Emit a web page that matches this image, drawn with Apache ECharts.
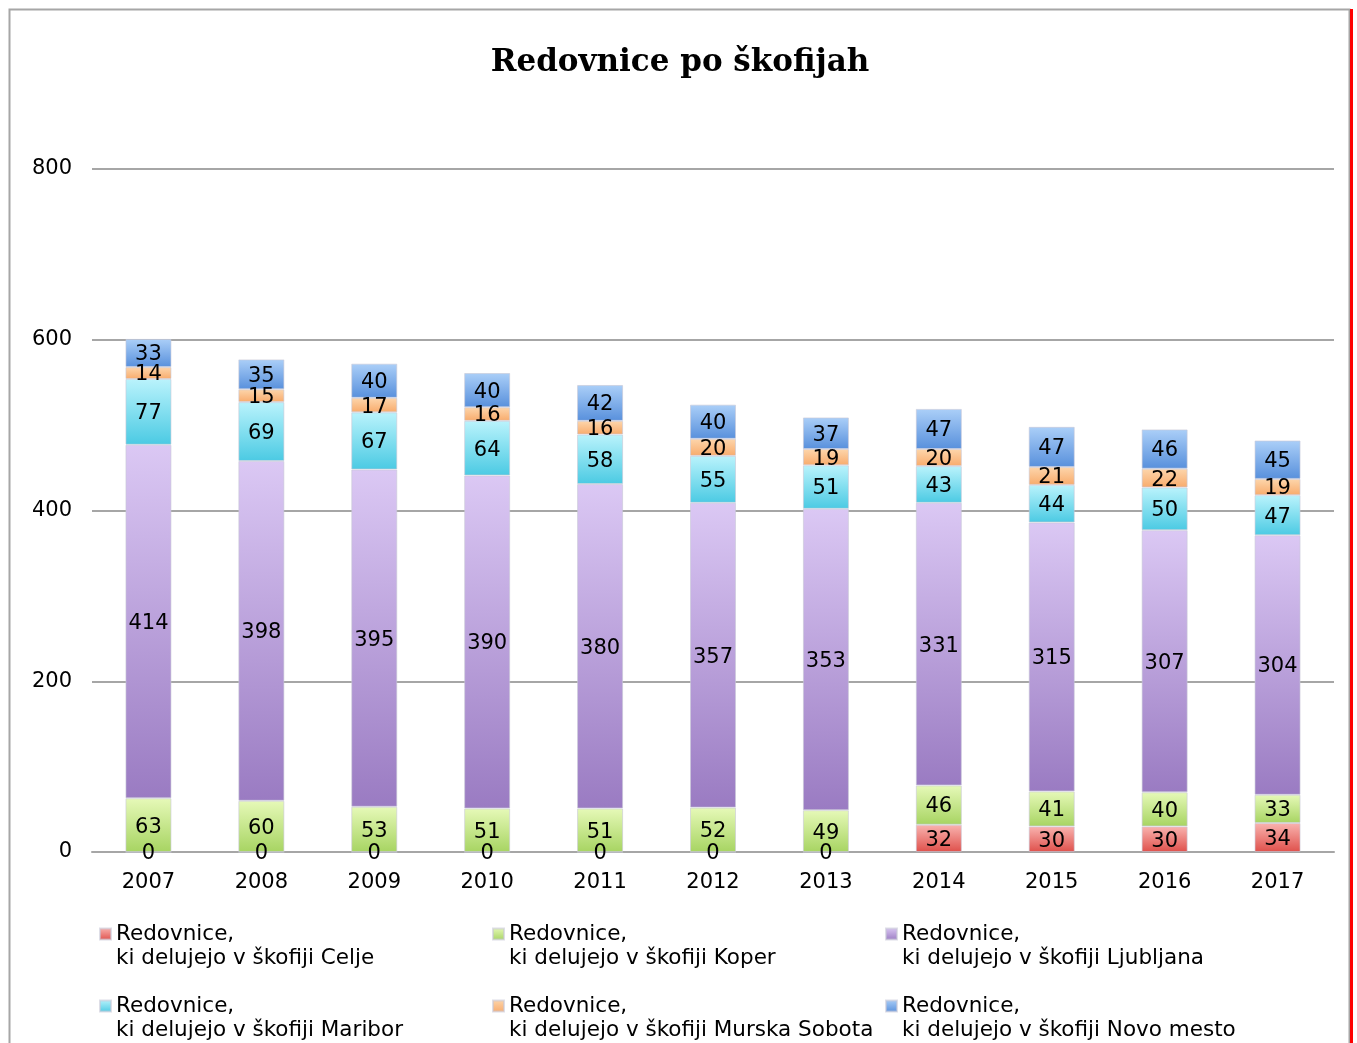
<!DOCTYPE html>
<html><head><meta charset="utf-8">
<script src="https://cdn.jsdelivr.net/npm/echarts@6/dist/echarts.min.js"></script>
<style>html,body{margin:0;padding:0;background:#fff}#c{width:1357px;height:1043px}</style>
</head><body><div id="c"></div>
<script>
const years = ['2007','2008','2009','2010','2011','2012','2013','2014','2015','2016','2017'];
const celje = [0,0,0,0,0,0,0,32,30,30,34];
const koper = [63,60,53,51,51,52,49,46,41,40,33];
const ljubljana = [414,398,395,390,380,357,353,331,315,307,304];
const maribor = [77,69,67,64,58,55,51,43,44,50,47];
const murskaSobota = [14,15,17,16,16,20,19,20,21,22,19];
const novoMesto = [33,35,40,40,42,40,37,47,47,46,45];
const yTicks = [0,200,400,600,800];
const seriesNames = [
  'Redovnice,\nki delujejo v škofiji Celje',
  'Redovnice,\nki delujejo v škofiji Koper',
  'Redovnice,\nki delujejo v škofiji Ljubljana',
  'Redovnice,\nki delujejo v škofiji Maribor',
  'Redovnice,\nki delujejo v škofiji Murska Sobota',
  'Redovnice,\nki delujejo v škofiji Novo mesto'
];
const seriesData = [celje, koper, ljubljana, maribor, murskaSobota, novoMesto];
const grads = [
  ['#f9b4b0','#df504b'],
  ['#e6f9b8','#a7d462'],
  ['#dbc8f4','#9a7bc2'],
  ['#baf3fc','#4bcae3'],
  ['#fdd6ac','#f8ab6c'],
  ['#abcff8','#5890dc']
];
const FONT = 'DejaVu Sans';
const chart = echarts.init(document.getElementById('c'));
function grad(c){return new echarts.graphic.LinearGradient(0,0,0,1,[{offset:0,color:c[0]},{offset:1,color:c[1]}]);}
const series = seriesData.map((d,i)=>({
  name: seriesNames[i], type:'bar', stack:'total', data:d, barWidth:46,
  itemStyle:{color:grad(grads[i]), borderColor:'rgba(200,200,215,0.6)', borderWidth:1},
  label:{show:true, position:'inside', offset:[0,2], color:'#000', fontFamily:FONT, fontSize:21},
  emphasis:{disabled:true}
}));
function mkLegend(left, top, item){
  return {
    orient:'horizontal', left:left, top:top, padding:0,
    itemWidth:11, itemHeight:11, itemGap:0, icon:'rect',
    formatter: n => '\n' + n,
    textStyle:{fontFamily:FONT, fontSize:21.5, color:'#000', lineHeight:24},
    selectedMode:false, data:[item]
  };
}
const colsX = [99, 492, 885];
const rowsY = [898, 970];
const legends = seriesNames.map((n,i)=>mkLegend(colsX[i%3], rowsY[Math.floor(i/3)], n));
chart.setOption({
  animation:false,
  backgroundColor:'#fff',
  title:{text:'Redovnice po škofijah', left:675, textAlign:'center', top:42,
    textStyle:{fontFamily:'DejaVu Serif', fontWeight:'bold', fontSize:31, color:'#000'}},
  grid:{left:92, right:23, top:169, bottom:191},
  legend: legends,
  xAxis:{type:'category', data:years,
    axisLine:{lineStyle:{color:'#a6a6a6', width:2}}, axisTick:{show:false},
    axisLabel:{fontFamily:FONT, fontSize:21, color:'#000', margin:20}},
  yAxis:{type:'value', min:yTicks[0], max:yTicks[yTicks.length-1], interval:200,
    axisLine:{show:false}, axisTick:{show:false},
    splitLine:{lineStyle:{color:'#a6a6a6', width:2}},
    axisLabel:{fontFamily:FONT, fontSize:21, color:'#000', margin:20, padding:[4,0,0,0]}},
  series: series,
  graphic:[
    {type:'rect', shape:{x:9.5,y:9.5,width:1340,height:1100}, style:{fill:null, stroke:'#a6a6a6', lineWidth:2}, silent:true, z:-1},
    {type:'rect', shape:{x:1350,y:9,width:3,height:1040}, style:{fill:'#ff0000'}, silent:true}
  ]
});
</script></body></html>
